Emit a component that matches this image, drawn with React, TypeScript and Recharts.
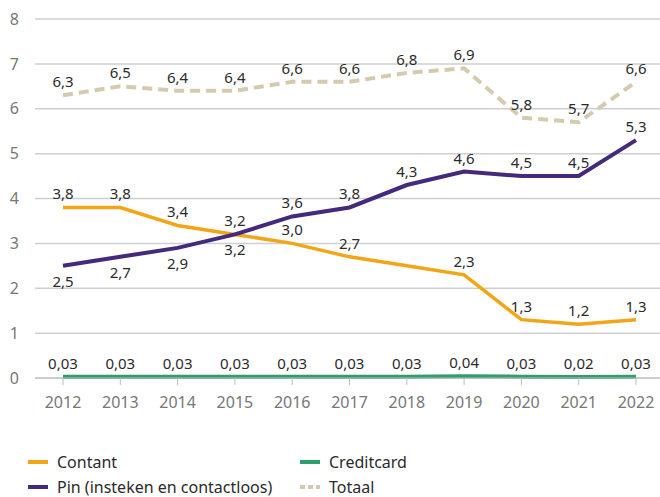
import { CartesianGrid, LabelList, Line, LineChart, XAxis, YAxis } from "recharts";

const years = ["2012", "2013", "2014", "2015", "2016", "2017", "2018", "2019", "2020", "2021", "2022"];
const contant = [3.8, 3.8, 3.4, 3.2, 3.0, 2.7, 2.5, 2.3, 1.3, 1.2, 1.3];
const pin = [2.5, 2.7, 2.9, 3.2, 3.6, 3.8, 4.3, 4.6, 4.5, 4.5, 5.3];
const creditcard = [0.03, 0.03, 0.03, 0.03, 0.03, 0.03, 0.03, 0.04, 0.03, 0.02, 0.03];
const totaal = [6.3, 6.5, 6.4, 6.4, 6.6, 6.6, 6.8, 6.9, 5.8, 5.7, 6.6];
const yTicks = [0, 1, 2, 3, 4, 5, 6, 7, 8];

const data = years.map((year, i) => ({
  year,
  contant: contant[i],
  pin: pin[i],
  creditcard: creditcard[i],
  totaal: totaal[i],
}));

const FONT = "'Noto Sans', sans-serif";
const COLORS = {
  contant: "#f2a516",
  pin: "#432a7c",
  creditcard: "#2f9d6c",
  totaal: "#d5caad",
};

function makeLabel(decimals: number, below: (i: number) => boolean = () => false, hidden: number[] = []) {
  return (props: any) => {
    const { x, y, value, index } = props;
    if (hidden.includes(index)) return null;
    const isBelow = below(index);
    return (
      <text
        x={x}
        y={isBelow ? y + 15 : y - 14}
        textAnchor="middle"
        dominantBaseline="central"
        fontFamily={FONT}
        fontSize={15}
        fill="#2b2b2b"
      >
        {Number(value).toFixed(decimals).replace(".", ",")}
      </text>
    );
  };
}

const legendItems = [
  { name: "Contant", color: COLORS.contant, left: 28, top: 462, dashed: false },
  { name: "Pin (insteken en contactloos)", color: COLORS.pin, left: 28, top: 487, dashed: false },
  { name: "Creditcard", color: COLORS.creditcard, left: 300, top: 462, dashed: false },
  { name: "Totaal", color: COLORS.totaal, left: 300, top: 487, dashed: true },
];

export default function App() {
  const tickStyle = { fontFamily: FONT, fontSize: 16, fill: "#777" };
  return (
    <div style={{ position: "absolute", left: 0, top: 0, width: 660, height: 497, background: "#fff", overflow: "hidden" }}>
      <LineChart width={660} height={420} data={data} margin={{ top: 19, right: 0, left: 0, bottom: 0 }}>
        <CartesianGrid vertical={false} stroke="#cfcfcf" strokeWidth={1.5} />
        <XAxis
          dataKey="year"
          height={42}
          padding={{ left: 28, right: 24 }}
          stroke="#bdbdbd"
          tickSize={7}
          tickMargin={12}
          tick={tickStyle}
          interval={0}
        />
        <YAxis
          width={35}
          domain={[0, 8]}
          ticks={yTicks}
          axisLine={false}
          tickLine={false}
          tickMargin={10}
          tick={tickStyle}
        />
        <Line
          dataKey="totaal"
          stroke={COLORS.totaal}
          strokeWidth={4}
          strokeDasharray="10 6"
          dot={false}
          isAnimationActive={false}
        >
          <LabelList dataKey="totaal" content={makeLabel(1)} />
        </Line>
        <Line dataKey="contant" stroke={COLORS.contant} strokeWidth={3.5} dot={false} isAnimationActive={false}>
          <LabelList dataKey="contant" content={makeLabel(1, () => false, [6])} />
        </Line>
        <Line dataKey="pin" stroke={COLORS.pin} strokeWidth={4} dot={false} isAnimationActive={false}>
          <LabelList dataKey="pin" content={makeLabel(1, (i) => i < 4)} />
        </Line>
        <Line dataKey="creditcard" stroke={COLORS.creditcard} strokeWidth={4} dot={false} isAnimationActive={false}>
          <LabelList dataKey="creditcard" content={makeLabel(2)} />
        </Line>
      </LineChart>
      {legendItems.map((item) => (
        <div
          key={item.name}
          style={{
            position: "absolute",
            left: item.left,
            top: item.top - 9,
            height: 18,
            lineHeight: "18px",
            display: "flex",
            alignItems: "center",
            fontFamily: FONT,
            fontSize: 16,
            color: "#2b2b2b",
            whiteSpace: "nowrap",
          }}
        >
          <svg width={20} height={4} style={{ marginRight: 9 }}>
            <line
              x1={0}
              y1={2}
              x2={20}
              y2={2}
              stroke={item.color}
              strokeWidth={4}
              strokeDasharray={item.dashed ? "5 3" : undefined}
            />
          </svg>
          {item.name}
        </div>
      ))}
    </div>
  );
}
